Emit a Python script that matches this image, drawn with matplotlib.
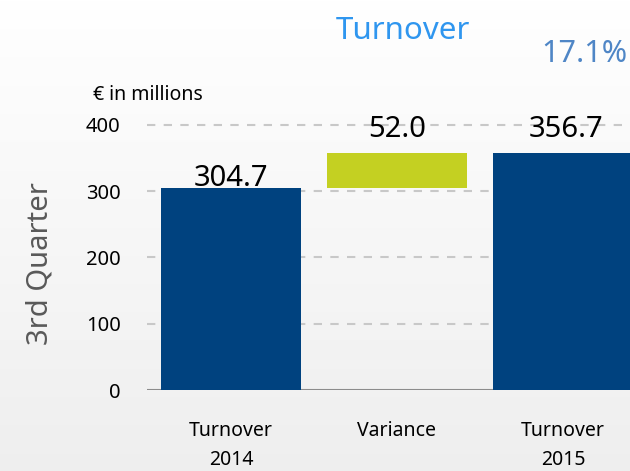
import numpy as np
import matplotlib.pyplot as plt

plt.rcParams['font.family'] = ['Noto Sans', 'DejaVu Sans']

# data
categories = ["Turnover\n2014", "Variance", "Turnover\n2015"]
turnover_2014 = 304.7
turnover_2015 = 356.7
variance = 52.0
growth = "17.1%"
yticks = [0, 100, 200, 300, 400]

dark_blue = "#00427f"
lime = "#c4d022"

fig = plt.figure(figsize=(6.3, 4.71), dpi=100)

# background gradient (white to light gray)
bg = fig.add_axes([0, 0, 1, 1], zorder=-10)
grad = np.linspace(1.0, 0.935, 256).reshape(-1, 1)
bg.imshow(np.dstack([grad, grad, grad]), aspect='auto', extent=[0, 1, 0, 1])
bg.axis('off')

ax = fig.add_axes([147/630, 81/471, 1 - 147/630, 278.5/471])
ax.patch.set_alpha(0)

x = np.arange(len(categories))
width = 0.843
bottoms = [0, turnover_2014, 0]
heights = [turnover_2014, variance, turnover_2015]
colors = [dark_blue, lime, dark_blue]
ax.bar(x, heights, width, bottom=bottoms, color=colors, zorder=3)

# value labels
ax.text(x[0], turnover_2014 + 3, f"{turnover_2014:.1f}", ha='center', va='baseline', fontsize=21, zorder=4)
ax.text(x[1], 382, f"{variance:.1f}", ha='center', va='baseline', fontsize=21, zorder=4)
ax.text(x[2] + 0.02, 382, f"{turnover_2015:.1f}", ha='center', va='baseline', fontsize=21, zorder=4)

ax.set_xlim(-0.506, 2.404)
ax.set_ylim(0, 420)
ax.set_yticks(yticks)
ax.set_yticklabels([str(v) for v in yticks], fontsize=14.5)
ax.set_xticks(x)
ax.set_xticklabels(categories, fontsize=14, linespacing=1.6)
ax.tick_params(axis='both', length=0)
ax.tick_params(axis='y', pad=19)
ax.tick_params(axis='x', pad=22)

for v in yticks[1:]:
    ax.axhline(v, color="#c8c8c8", linestyle=(0, (4, 4)), linewidth=1.5, zorder=1)
ax.axhline(0, color="#8c8c8c", linewidth=1.5, zorder=2)

for s in ax.spines.values():
    s.set_visible(False)

fig.text(403/630, 1 - 31/471, "Turnover", color="#2f96ef", fontsize=22.5, ha='center', va='center')
fig.text(584/630, 1 - 54/471, growth, color="#4f86c6", fontsize=22, ha='center', va='center')
fig.text(148/630, 1 - 95/471, "€ in millions", fontsize=14, ha='center', va='center')
fig.text(40/630, 1 - 264/471, "3rd Quarter", color="#595959", fontsize=21, rotation=90, ha='center', va='center')

fig.savefig("out.png", dpi=100)
